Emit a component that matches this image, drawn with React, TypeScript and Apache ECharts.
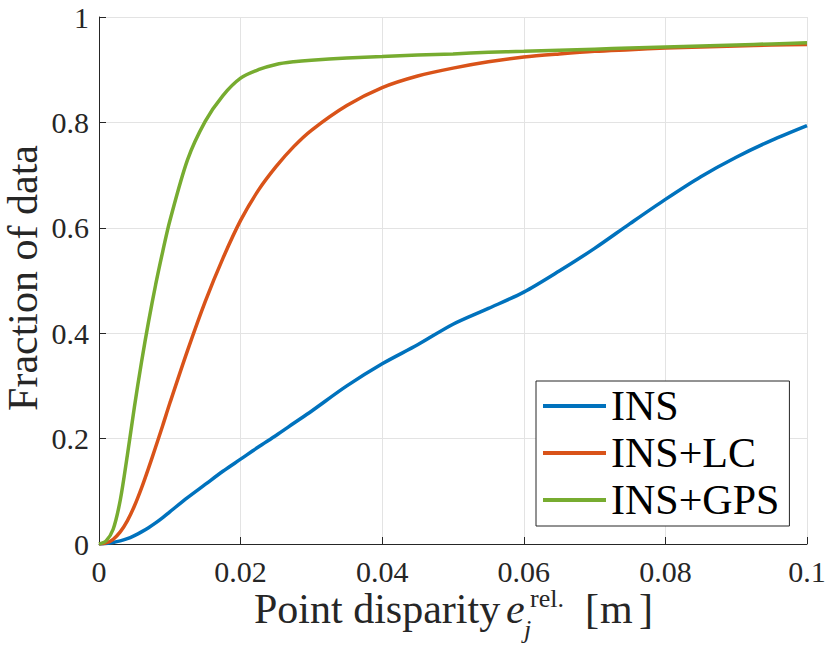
import React, { useEffect, useRef } from "react";
import * as echarts from "echarts";

const xs = [0, 0.001, 0.002, 0.003, 0.004, 0.005, 0.006, 0.007, 0.008, 0.009, 0.01, 0.0125, 0.015, 0.0175, 0.02, 0.0225, 0.025, 0.0275, 0.03, 0.035, 0.04, 0.045, 0.05, 0.055, 0.06, 0.065, 0.07, 0.075, 0.08, 0.085, 0.09, 0.095, 0.1];
const ins = [0, 0.001, 0.003, 0.006, 0.01, 0.016, 0.023, 0.031, 0.04, 0.05, 0.061, 0.088, 0.113, 0.138, 0.161, 0.184, 0.206, 0.229, 0.252, 0.3, 0.342, 0.378, 0.417, 0.447, 0.478, 0.518, 0.561, 0.608, 0.654, 0.697, 0.734, 0.766, 0.794];
const insLc = [0, 0.002, 0.009, 0.023, 0.044, 0.072, 0.106, 0.144, 0.184, 0.225, 0.267, 0.367, 0.46, 0.542, 0.614, 0.671, 0.716, 0.754, 0.785, 0.832, 0.866, 0.888, 0.903, 0.915, 0.924, 0.93, 0.935, 0.938, 0.941, 0.943, 0.945, 0.947, 0.948];
const insGps = [0, 0.006, 0.028, 0.083, 0.168, 0.26, 0.345, 0.422, 0.492, 0.555, 0.613, 0.729, 0.802, 0.851, 0.884, 0.9, 0.91, 0.915, 0.918, 0.922, 0.925, 0.928, 0.93, 0.933, 0.935, 0.937, 0.939, 0.941, 0.943, 0.945, 0.947, 0.949, 0.951];

const seriesNames = ["INS", "INS+LC", "INS+GPS"];
const seriesColors = ["#0072BD", "#D95319", "#77AC30"];
const seriesValues = [ins, insLc, insGps];

const FONT = '"Liberation Serif", "Times New Roman", serif';
const INK = "#262626";

export default function App() {
  const ref = useRef<HTMLDivElement>(null);
  useEffect(() => {
    if (!ref.current) return;
    const chart = echarts.init(ref.current, undefined, { renderer: "svg" });
    const txt = (text: string, x: number, y: number, fontSize: number, extra: any = {}) => ({
      type: "text",
      x,
      y,
      silent: true,
      style: {
        text,
        fontFamily: FONT,
        fontSize,
        lineHeight: Math.round(fontSize * 0.75),
        fill: INK,
        align: "left",
        verticalAlign: "middle",
        ...extra,
      },
    });
    chart.setOption({
      animation: false,
      backgroundColor: "#fff",
      grid: { left: 99, right: 23, top: 17, bottom: 103, containLabel: false },
      xAxis: {
        type: "value",
        min: 0,
        max: 0.1,
        interval: 0.02,
        axisLine: { show: true, lineStyle: { color: INK, width: 1 } },
        axisTick: { show: true, inside: true, length: 7, lineStyle: { color: INK } },
        axisLabel: { fontFamily: FONT, fontSize: 30, lineHeight: 24, color: INK, margin: 15 },
        splitLine: { show: true, lineStyle: { color: "#e3e3e3", width: 1 } },
      },
      yAxis: {
        type: "value",
        min: 0,
        max: 1,
        interval: 0.2,
        axisLine: { show: true, lineStyle: { color: INK, width: 1 } },
        axisTick: { show: true, inside: true, length: 7, lineStyle: { color: INK } },
        axisLabel: { fontFamily: FONT, fontSize: 30, color: INK, margin: 10 },
        splitLine: { show: true, lineStyle: { color: "#e3e3e3", width: 1 } },
      },
      legend: {
        orient: "vertical",
        left: 536,
        top: 381,
        padding: [4, 10, 5, 7],
        itemGap: 5,
        itemWidth: 63,
        itemHeight: 4,
        icon: "rect",
        backgroundColor: "#fff",
        borderColor: INK,
        borderWidth: 1,
        borderRadius: 0,
        textStyle: { fontFamily: FONT, fontSize: 42, color: "#000", lineHeight: 42 },
        data: seriesNames,
      },
      series: seriesNames.map((name, i) => ({
        name,
        type: "line",
        data: xs.map((x, k) => [x, seriesValues[i][k]]),
        showSymbol: false,
        smooth: 0.3,
        itemStyle: { color: seriesColors[i] },
        lineStyle: { color: seriesColors[i], width: 3.5 },
        z: 2 + i,
      })),
      graphic: [
        {
          type: "text",
          x: 23,
          y: 278,
          rotation: Math.PI / 2,
          silent: true,
          style: {
            text: "Fraction of data",
            fontFamily: FONT,
            fontSize: 42,
            lineHeight: 30,
            fill: INK,
            align: "center",
            verticalAlign: "middle",
          },
        },
        txt("Point disparity", 254, 609, 42),
        txt("e", 506, 609, 42, { fontStyle: "italic" }),
        txt("j", 524, 629, 26, { fontStyle: "italic" }),
        txt("rel.", 530, 598, 26),
        txt("[", 585, 609, 42),
        txt("m", 600, 609, 42),
        txt("]", 639, 609, 42),
      ],
    });
    return () => chart.dispose();
  }, []);
  return (
    <div
      ref={ref}
      style={{ position: "absolute", left: 0, top: 0, width: 830, height: 647 }}
    />
  );
}
